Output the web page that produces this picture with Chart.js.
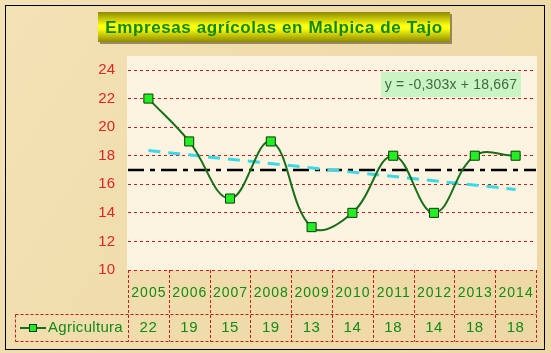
<!DOCTYPE html>
<html>
<head>
<meta charset="utf-8">
<script src="https://cdn.jsdelivr.net/npm/chart.js@4"></script>
<style>
  html, body { margin: 0; padding: 0; background: #efdcae; }
  canvas { display: block; }
</style>
</head>
<body>
<canvas id="agriChart" width="551" height="353"></canvas>
<script>
const years = ['2005', '2006', '2007', '2008', '2009', '2010', '2011', '2012', '2013', '2014'];
const agricultura = [22, 19, 15, 19, 13, 14, 18, 14, 18, 18];
const trendEnds = [18.36, 15.64];   // linea de tendencia
const media = 17;
const yTicks = [10, 12, 14, 16, 18, 20, 22, 24];
const titulo = 'Empresas agrícolas en Malpica de Tajo';
const ecuacion = 'y = -0,303x + 18,667';
const serieNombre = 'Agricultura';

const FONT = 'Arial, "Liberation Sans", sans-serif';
const GREEN_TXT = '#138a13';
const RED_DASH = '#cc1a1a';

// fondo, zona de trazado y marco
const fondo = {
    id: 'fondo',
    beforeDraw(chart) {
        const ctx = chart.ctx;
        const area = chart.chartArea;
        ctx.save();
        const g = ctx.createLinearGradient(0, 0, 551, 353);
        g.addColorStop(0, '#f3e2b6');
        g.addColorStop(0.5, '#f0dcab');
        g.addColorStop(1, '#edd8a5');
        ctx.fillStyle = g;
        ctx.fillRect(0, 0, 551, 353);
        ctx.fillStyle = '#fcf4e0';
        ctx.fillRect(area.left - 1, 56, area.right - area.left + 2, area.bottom - 56);
        ctx.restore();
    },
    afterDraw(chart) {
        const ctx = chart.ctx;
        const xs = chart.scales.x;
        const ys = chart.scales.y;
        ctx.save();

        // tabla de datos
        const top = ys.getPixelForValue(10);
        const mid = 314.5, bot = 341.5, legL = 15.5;
        const cols = [];
        for (let i = 0; i <= years.length; i++) cols.push(Math.round(xs.getPixelForValue(i + 0.5)) + 0.5);
        ctx.strokeStyle = RED_DASH;
        ctx.lineWidth = 1;
        ctx.setLineDash([3, 2]);
        ctx.beginPath();
        cols.forEach(x => { ctx.moveTo(x, top); ctx.lineTo(x, bot); });
        ctx.moveTo(legL, mid); ctx.lineTo(cols[cols.length - 1], mid);
        ctx.moveTo(legL, bot); ctx.lineTo(cols[cols.length - 1], bot);
        ctx.moveTo(legL, mid); ctx.lineTo(legL, bot);
        ctx.stroke();
        ctx.setLineDash([]);

        ctx.fillStyle = GREEN_TXT;
        ctx.textAlign = 'center';
        ctx.textBaseline = 'middle';
        ctx.font = '14px ' + FONT;
        ctx.letterSpacing = '1px';
        years.forEach((y, i) => ctx.fillText(y, xs.getPixelForValue(i + 1) + 0.5, 293));
        ctx.letterSpacing = '0.5px';
        ctx.font = '15px ' + FONT;
        agricultura.forEach((v, i) => ctx.fillText(String(v), xs.getPixelForValue(i + 1), 328));

        // leyenda
        ctx.strokeStyle = '#1a6e1a';
        ctx.lineWidth = 2;
        ctx.beginPath(); ctx.moveTo(20, 328); ctx.lineTo(46, 328); ctx.stroke();
        ctx.fillStyle = '#22ee22';
        ctx.strokeStyle = '#0c3a0c';
        ctx.lineWidth = 1;
        ctx.fillRect(29, 324, 8, 8);
        ctx.strokeRect(29.5, 324.5, 7, 7);
        ctx.fillStyle = GREEN_TXT;
        ctx.textAlign = 'left';
        ctx.font = '15px ' + FONT;
        ctx.letterSpacing = '0.3px';
        ctx.fillText(serieNombre, 48, 328);

        // ecuacion de tendencia
        ctx.fillStyle = '#c9f5c4';
        ctx.fillRect(381, 72, 140, 25);
        ctx.fillStyle = '#3f6a3f';
        ctx.font = '14px ' + FONT;
        ctx.letterSpacing = '0.2px';
        ctx.textAlign = 'center';
        ctx.fillText(ecuacion, 451, 85);

        // titulo
        const tx = 98, ty = 12, tw = 352, th = 30;
        ctx.fillStyle = 'rgba(60,50,20,0.5)';
        ctx.fillRect(tx + 2, ty + 2, tw, th);
        const tg = ctx.createLinearGradient(0, ty, 0, ty + th);
        tg.addColorStop(0, '#8c8a00');
        tg.addColorStop(0.45, '#ffff10');
        tg.addColorStop(0.55, '#ffff10');
        tg.addColorStop(1, '#8c8a00');
        ctx.fillStyle = tg;
        ctx.fillRect(tx, ty, tw, th);
        ctx.fillStyle = '#0a8a0a';
        ctx.font = 'bold 17px ' + FONT;
        ctx.letterSpacing = '0.6px';
        ctx.fillText(titulo, tx + tw / 2, ty + th / 2 + 1);
        ctx.letterSpacing = '0px';

        // marco exterior
        ctx.strokeStyle = '#000';
        ctx.lineWidth = 1;
        ctx.strokeRect(5.5, 5.5, 539, 344);
        ctx.restore();
    }
};

const ctx = document.getElementById('agriChart').getContext('2d');
const myChart = new Chart(ctx, {
    type: 'line',
    data: {
        datasets: [{
            label: serieNombre,
            data: agricultura.map((v, i) => ({ x: i + 1, y: v })),
            borderColor: '#1a6e1a',
            borderWidth: 2,
            tension: 0.4,
            pointStyle: 'rect',
            pointRadius: 6.4,
            pointBackgroundColor: '#22ee22',
            pointBorderColor: '#0c3a0c',
            pointBorderWidth: 1,
            fill: false
        }, {
            label: 'Tendencia',
            data: [{ x: 1, y: trendEnds[0] }, { x: years.length, y: trendEnds[1] }],
            borderColor: '#3cd8e4',
            borderWidth: 3,
            borderDash: [12, 8],
            pointRadius: 0,
            fill: false
        }, {
            label: 'Media',
            data: [{ x: 0.5, y: media }, { x: years.length + 0.5, y: media }],
            borderColor: '#000',
            borderWidth: 2.5,
            borderDash: [16, 6, 5, 6],
            pointRadius: 0,
            fill: false
        }]
    },
    options: {
        responsive: false,
        animation: false,
        devicePixelRatio: 1,
        layout: { padding: { top: 70, bottom: 83, left: 0, right: 15 } },
        plugins: { legend: { display: false }, tooltip: { enabled: false } },
        scales: {
            x: {
                type: 'linear',
                min: 0.5,
                max: years.length + 0.5,
                display: false
            },
            y: {
                min: yTicks[0],
                max: yTicks[yTicks.length - 1],
                afterFit(scale) { scale.width = 128; },
                afterBuildTicks(scale) { scale.ticks = yTicks.map(v => ({ value: v })); },
                grid: {
                    color: RED_DASH,
                    lineWidth: 1,
                    drawTicks: false
                },
                border: { display: false, dash: [3, 3] },
                ticks: {
                    color: '#e02424',
                    padding: 13,
                    font: { family: FONT, size: 15 }
                }
            }
        }
    },
    plugins: [fondo]
});
</script>
</body>
</html>
